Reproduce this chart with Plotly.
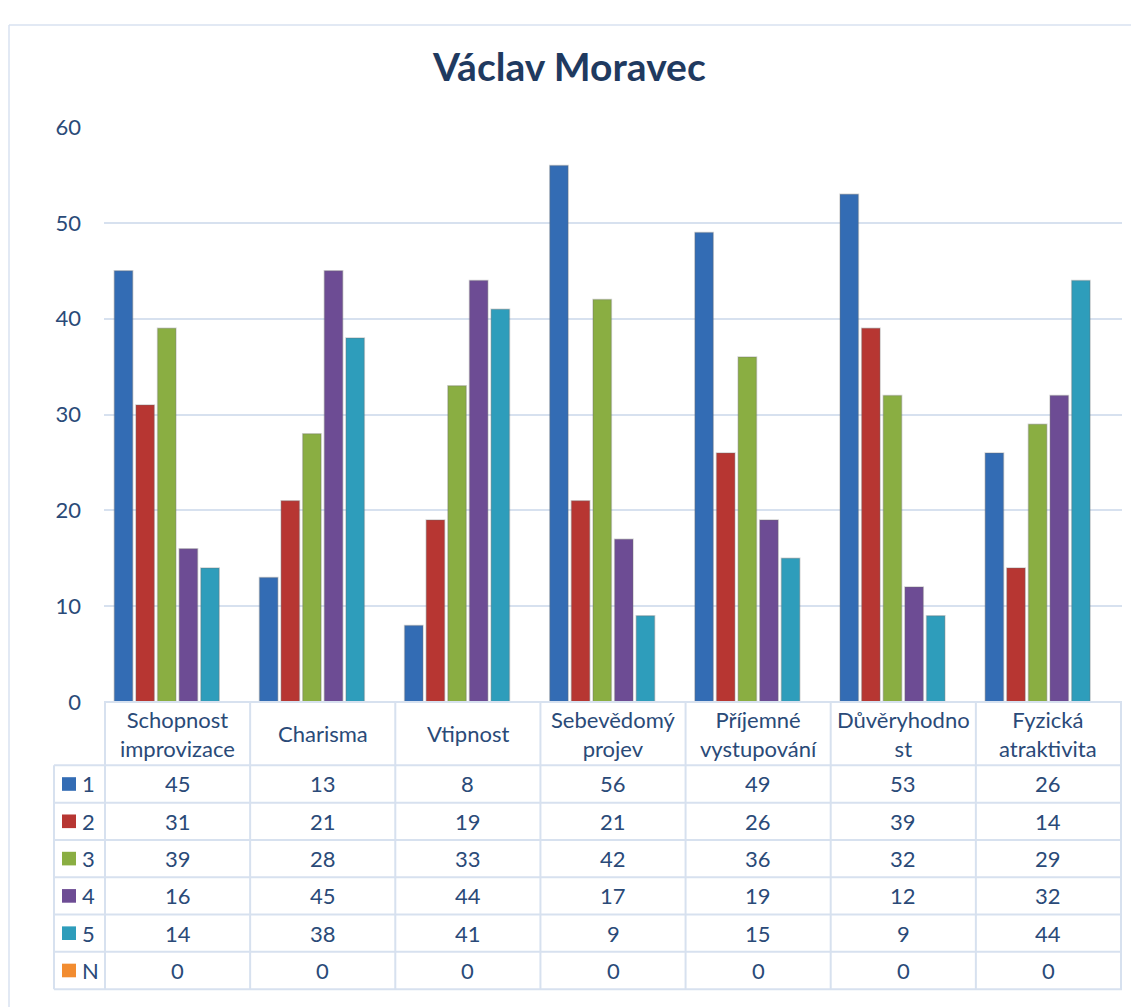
import plotly.graph_objects as go

categories = ["Schopnost improvizace", "Charisma", "Vtipnost", "Sebevědomý projev",
              "Příjemné vystupování", "Důvěryhodnost", "Fyzická atraktivita"]
header_labels = ["Schopnost<br>improvizace", "Charisma", "Vtipnost", "Sebevědomý<br>projev",
                 "Příjemné<br>vystupování", "Důvěryhodno<br>st", "Fyzická<br>atraktivita"]
series_names = ["1", "2", "3", "4", "5", "N"]
s1 = [45, 13, 8, 56, 49, 53, 26]
s2 = [31, 21, 19, 21, 26, 39, 14]
s3 = [39, 28, 33, 42, 36, 32, 29]
s4 = [16, 45, 44, 17, 19, 12, 32]
s5 = [14, 38, 41, 9, 15, 9, 44]
sN = [0, 0, 0, 0, 0, 0, 0]
series_values = [s1, s2, s3, s4, s5, sN]
title_text = "Václav Moravec"

colors = ["#336CB4", "#B73632", "#8AAE42", "#6D4C94", "#2E9DBB", "#F28C30"]
TEXT = "#2A4A78"
GRID = "#D7E1EF"
BORDER = "#D9E2F0"
FONT = "Lato"
FS = 22

# the page has an 8px margin around the figure
W, H = 1131, 999
OX, OY = 8, 8


def px(x):
    return (x - OX) / W


def py(y):
    return 1 - (y - OY) / H


PLOT_L, PLOT_R, PLOT_T, PLOT_B = 104, 1122, 116, 707
HDR_B = 772
TBL_B = 1002
ROW_H = (TBL_B - HDR_B) / 6
LEG_L = 54

fig = go.Figure()
for name, vals, col in zip(series_names, series_values, colors):
    fig.add_trace(go.Bar(x=categories, y=vals, name=name,
                         marker=dict(color=col, line=dict(width=1.5, color="rgba(110,110,110,0.30)")),
                         showlegend=False, hoverinfo="x+y+name"))

fig.update_layout(
    width=W, height=H, margin=dict(l=0, r=0, t=0, b=0),
    paper_bgcolor="white", plot_bgcolor="white",
    barmode="group", bargap=0.106, bargroupgap=0.15,
    font=dict(family=FONT, color=TEXT, size=FS),
    xaxis=dict(domain=[px(PLOT_L), px(PLOT_R)], type="category", showticklabels=False,
               showgrid=False, zeroline=False, showline=False, fixedrange=True),
    yaxis=dict(domain=[py(PLOT_B), py(PLOT_T)], range=[0, 60], dtick=10, tick0=0,
               showgrid=True, gridcolor=GRID, gridwidth=2, zeroline=False, showline=False,
               ticks="", ticklabelstandoff=22, tickfont=dict(size=FS, color=TEXT, family=FONT)),
)

shapes = []
# outer border of the chart area
shapes.append(dict(type="line", xref="paper", yref="paper", x0=px(9), x1=1.05, y0=py(11), y1=py(11),
                   line=dict(color=BORDER, width=1.5)))
shapes.append(dict(type="line", xref="paper", yref="paper", x0=px(9), x1=px(9), y0=py(11), y1=-0.05,
                   line=dict(color=BORDER, width=1.5)))
# data table: horizontal lines
shapes.append(dict(type="line", xref="x domain", yref="paper", x0=0, x1=1, y0=py(PLOT_B), y1=py(PLOT_B),
                   line=dict(color=GRID, width=2)))
for k in range(7):
    yy = HDR_B + k * ROW_H
    shapes.append(dict(type="line", xref="paper", yref="paper", x0=px(LEG_L), x1=px(PLOT_R), y0=py(yy), y1=py(yy),
                       line=dict(color=GRID, width=2)))
# data table: vertical lines on the category boundaries
for i in range(len(categories) + 1):
    shapes.append(dict(type="line", xref="x", yref="paper", x0=i - 0.5, x1=i - 0.5,
                       y0=py(PLOT_B), y1=py(TBL_B), line=dict(color=GRID, width=2)))
shapes.append(dict(type="line", xref="paper", yref="paper", x0=px(LEG_L), x1=px(LEG_L),
                   y0=py(HDR_B), y1=py(TBL_B), line=dict(color=GRID, width=2)))
# legend keys
for r, col in enumerate(colors):
    cy = HDR_B + ROW_H * (r + 0.5)
    shapes.append(dict(type="rect", xref="paper", yref="paper", x0=px(62), x1=px(76), y0=py(cy - 7), y1=py(cy + 7),
                       fillcolor=col, line=dict(width=0)))

annotations = []
annotations.append(dict(text="<b>" + title_text + "</b>", xref="paper", yref="paper", x=px(569), y=py(53),
                        xanchor="center", yanchor="middle", showarrow=False,
                        font=dict(size=39, color="#1F3A60", family=FONT)))
for cat, lab in zip(categories, header_labels):
    annotations.append(dict(text=lab, xref="x", yref="paper", x=cat, y=py((PLOT_B + HDR_B) / 2),
                            xanchor="center", yanchor="middle", showarrow=False,
                            font=dict(size=FS, color=TEXT, family=FONT)))
for r, (name, vals) in enumerate(zip(series_names, series_values)):
    cy = HDR_B + ROW_H * (r + 0.5)
    annotations.append(dict(text=name, xref="paper", yref="paper", x=px(80), y=py(cy),
                            xanchor="left", yanchor="middle", showarrow=False,
                            font=dict(size=FS, color=TEXT, family=FONT)))
    for cat, v in zip(categories, vals):
        annotations.append(dict(text=str(v), xref="x", yref="paper", x=cat, y=py(cy),
                                xanchor="center", yanchor="middle", showarrow=False,
                                font=dict(size=FS, color=TEXT, family=FONT)))

fig.update_layout(shapes=shapes, annotations=annotations)
fig.write_html("out.html")
